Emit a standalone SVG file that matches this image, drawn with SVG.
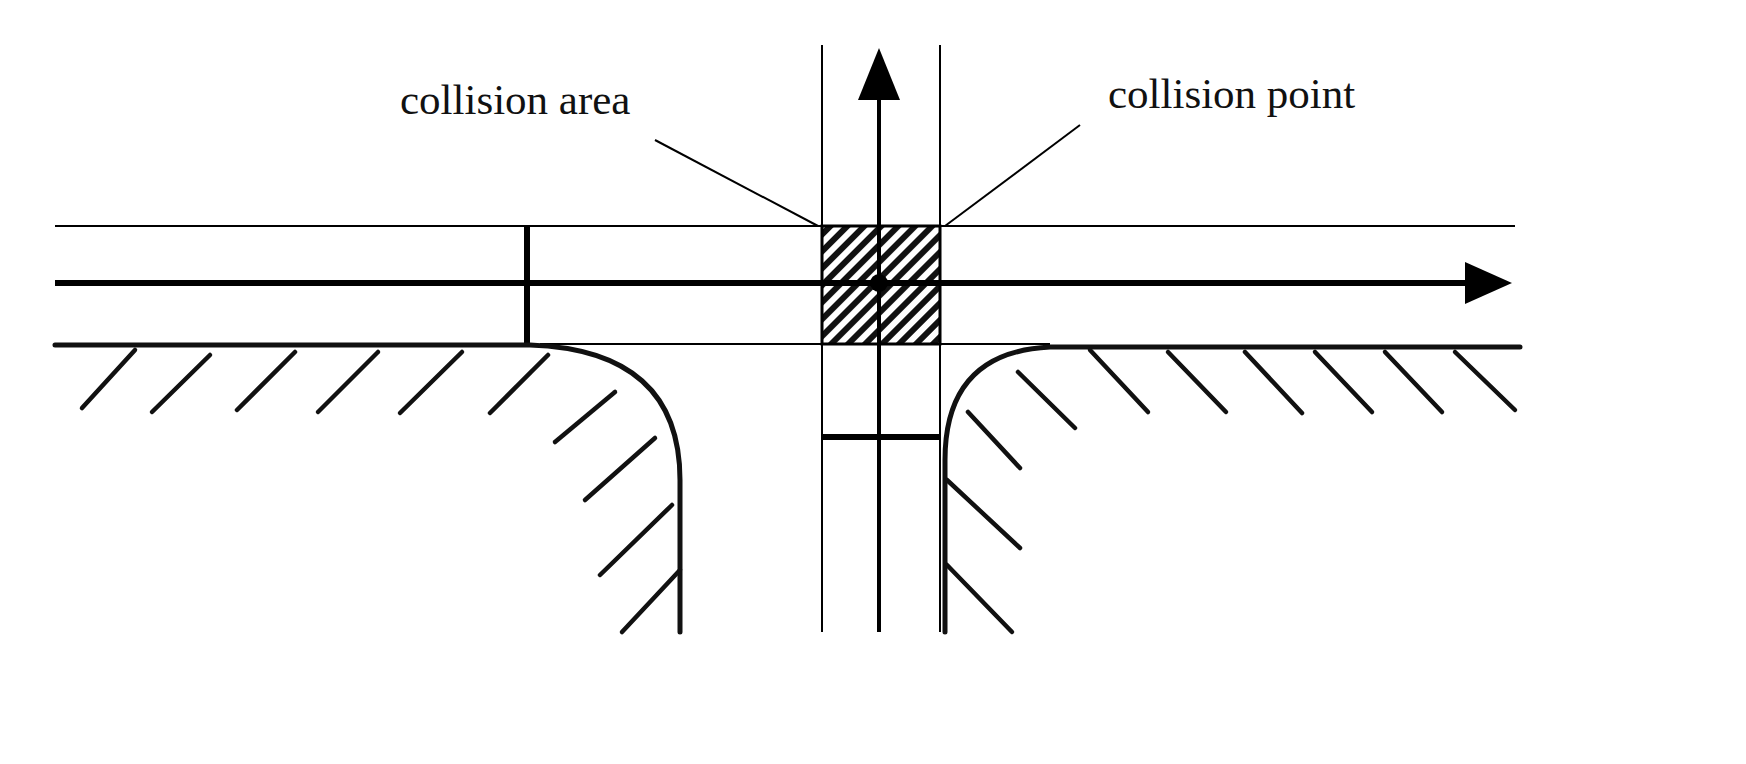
<svg xmlns="http://www.w3.org/2000/svg" width="1746" height="764" viewBox="0 0 1746 764">
<style>
.thin{stroke:#000;stroke-width:2;fill:none}
.thick{stroke:#000;stroke-width:6;fill:none}
.curb{stroke:#111;stroke-width:5;fill:none;stroke-linecap:round}
.h{stroke:#111;stroke-width:4.5;stroke-linecap:round}
text{font-family:"Liberation Serif",serif;font-size:43px;fill:#111}
</style>
<defs>
<pattern id="hatch" patternUnits="userSpaceOnUse" width="12" height="12" patternTransform="rotate(-45)">
<rect width="12" height="12" fill="#fff"/>
<rect width="12" height="6" fill="#111"/>
</pattern>
</defs>
<rect width="1746" height="764" fill="#fff"/>
<g id="collision-area">
<rect x="822" y="226" width="118" height="118" fill="url(#hatch)" stroke="#000" stroke-width="3"/>
</g>
<g id="roads">
<line class="thin" x1="55" y1="226" x2="1515" y2="226"/>
<line class="thin" x1="540" y1="344" x2="1050" y2="344"/>
<line class="thin" x1="822" y1="45" x2="822" y2="632"/>
<line class="thin" x1="940" y1="45" x2="940" y2="632"/>
<line class="thick" x1="527" y1="226" x2="527" y2="345"/>
<line class="thick" x1="822" y1="437" x2="940" y2="437"/>
</g>
<g id="connectors">
<line class="thick" x1="55" y1="283" x2="1470" y2="283"/>
<path d="M1465,262 L1512,283 L1465,304 Z" fill="#000"/>
<line stroke="#000" stroke-width="4" x1="879" y1="632" x2="879" y2="95"/>
<path d="M858,100 L879,48 L900,100 Z" fill="#000"/>
<line class="thin" x1="655" y1="140" x2="818" y2="226"/>
<line class="thin" x1="1080" y1="125" x2="945" y2="226"/>
</g>
<g id="collision-point"><circle cx="879" cy="283" r="9" fill="#000"/></g>
<g id="curbs">
<path class="curb" d="M55,345 L530,345 Q680,350 680,480 L680,632"/>
<path class="curb" d="M1520,347 L1050,347 Q945,352 945,460 L945,632"/>
<line class="h" x1="135" y1="350" x2="82" y2="408"/>
<line class="h" x1="210" y1="355" x2="152" y2="412"/>
<line class="h" x1="295" y1="352" x2="237" y2="410"/>
<line class="h" x1="378" y1="352" x2="318" y2="412"/>
<line class="h" x1="462" y1="352" x2="400" y2="413"/>
<line class="h" x1="548" y1="355" x2="490" y2="413"/>
<line class="h" x1="615" y1="392" x2="555" y2="442"/>
<line class="h" x1="655" y1="438" x2="585" y2="500"/>
<line class="h" x1="672" y1="505" x2="600" y2="575"/>
<line class="h" x1="680" y1="570" x2="622" y2="632"/>
<line class="h" x1="1090" y1="350" x2="1148" y2="412"/>
<line class="h" x1="1168" y1="352" x2="1226" y2="412"/>
<line class="h" x1="1245" y1="352" x2="1302" y2="413"/>
<line class="h" x1="1315" y1="352" x2="1372" y2="412"/>
<line class="h" x1="1385" y1="352" x2="1442" y2="412"/>
<line class="h" x1="1455" y1="352" x2="1515" y2="410"/>
<line class="h" x1="1018" y1="372" x2="1075" y2="428"/>
<line class="h" x1="968" y1="412" x2="1020" y2="468"/>
<line class="h" x1="947" y1="480" x2="1020" y2="548"/>
<line class="h" x1="947" y1="565" x2="1012" y2="632"/>
</g>
<g id="labels">
<text x="400" y="114">collision area</text>
<text x="1108" y="108">collision point</text>
</g>
</svg>
